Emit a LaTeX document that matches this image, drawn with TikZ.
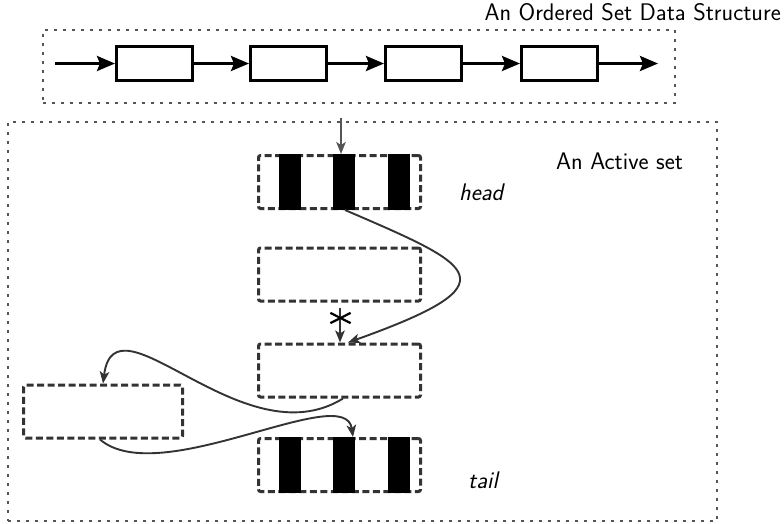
\documentclass[tikz,border=0pt]{standalone}
\usetikzlibrary{arrows.meta,shapes.misc}
\definecolor{ink}{HTML}{333333}
\definecolor{feed}{HTML}{555555}
\definecolor{framegray}{HTML}{555555}
\begin{document}
\begin{tikzpicture}[x=1pt,y=-1pt,
  font=\sffamily\fontsize{24}{28}\selectfont,
  frame/.style={draw=framegray, line width=2.6pt, dash pattern=on 2.6pt off 6.4pt, inner sep=0pt},
  chainbox/.style={draw=black, line width=3pt, minimum width=76pt, minimum height=34pt, inner sep=0pt},
  chainarrow/.style={draw=black, line width=3pt, -{Stealth[length=18pt,width=15pt,inset=3pt]}},
  slot/.style={draw=ink, line width=3pt, dash pattern=on 7pt off 3.5pt, rounded corners=2pt,
               minimum width=162pt, minimum height=53pt, inner sep=0pt},
  bar/.style={fill=black, minimum width=22pt, minimum height=56pt, inner sep=0pt},
  link/.style={draw=ink, line width=1.9pt, -{Stealth[length=12pt,width=9.5pt,inset=3pt]}},
  label/.style={inner sep=0pt, text=black},
]
\useasboundingbox (0,0) rectangle (784,523);

% dotted containers
\node[frame, minimum width=632pt, minimum height=73pt] (ordered) at (359,66.5) {};
\node[frame, minimum width=709pt, minimum height=399pt] (active) at (362.5,321.5) {};

% captions
\node[label, anchor=base east] (title) at (781,20) {An Ordered Set Data Structure};
\node[label, anchor=base west] (activelabel) at (556,169) {An Active set};
\node[label, anchor=base west] (headlabel) at (459,200) {\itshape head};
\node[label, anchor=base west] (taillabel) at (468,488) {\itshape tail};

% ordered chain
\node[chainbox] (c1) at (154.5,63.5) {};
\node[chainbox] (c2) at (288.5,63.5) {};
\node[chainbox] (c3) at (423.5,63.5) {};
\node[chainbox] (c4) at (559.5,63.5) {};
\coordinate (cin) at (55,63.5);
\coordinate (cout) at (658,63.5);
\draw[chainarrow] (cin) -- (c1);
\draw[chainarrow] (c1) -- (c2);
\draw[chainarrow] (c2) -- (c3);
\draw[chainarrow] (c3) -- (c4);
\draw[chainarrow] (c4) -- (cout);

% active set slots
\node[slot] (head) at (339.5,182) {};
\node[slot] (s2) at (339.5,274.5) {};
\node[slot] (s3) at (339.5,370.5) {};
\node[slot, minimum width=159pt] (s4) at (103,411.5) {};
\node[slot] (tail) at (339.5,465) {};

% filled bars in head and tail
\node[bar] (hb1) at ([xshift=-49.5pt]head.center) {};
\node[bar] (hb2) at ([xshift=4.5pt]head.center) {};
\node[bar] (hb3) at ([xshift=59.5pt]head.center) {};
\node[bar] (tb1) at ([xshift=-49.5pt]tail.center) {};
\node[bar] (tb2) at ([xshift=4.5pt]tail.center) {};
\node[bar] (tb3) at ([xshift=59.5pt]tail.center) {};

% links
\coordinate (entry) at (341,118);
\draw[link, draw=feed] (entry) -- (entry |- head.north);
\draw[link] ([xshift=0.5pt,yshift=-5pt]s2.south) -- ([xshift=0.5pt]s3.north);
\node[cross out, draw=black, line width=2.2pt, minimum width=18pt, minimum height=8pt, inner sep=0pt] (cut) at (340.5,318) {};
\draw[link] ([xshift=5.5pt]head.south) .. controls +(130,56) and +(168,-60) .. ([xshift=8.5pt]s3.north);
\draw[link] ([xshift=3.5pt]s3.south) .. controls +(-100,62) and +(12,-94) .. (s4.north);
\draw[link] ([xshift=-3pt]s4.south) .. controls +(60,51) and +(-8,-57) .. ([xshift=13.5pt]tail.north);
\end{tikzpicture}
\end{document}
